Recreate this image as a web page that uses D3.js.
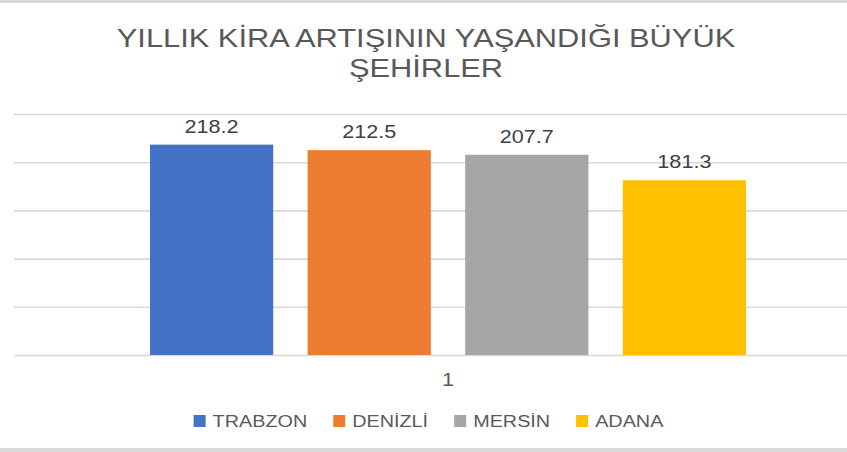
<!DOCTYPE html>
<html>
<head>
<meta charset="utf-8">
<script src="https://cdn.jsdelivr.net/npm/d3@7"></script>
<style>
  html, body { margin: 0; padding: 0; background: #fff; }
  svg { display: block; }
  text { font-family: "Liberation Sans", Arial, sans-serif; }
</style>
</head>
<body>
<svg id="chart" width="847" height="452"></svg>
<script>
// ---- data ----
const titleLines = ["YILLIK KİRA ARTIŞININ YAŞANDIĞI BÜYÜK", "ŞEHİRLER"];
const categories = ["1"];
const seriesNames = ["TRABZON", "DENİZLİ", "MERSİN", "ADANA"];
const seriesValues = [218.2, 212.5, 207.7, 181.3];
const seriesColors = ["#4472C4", "#ED7D31", "#A5A5A5", "#FFC000"];
const yTicks = [0, 50, 100, 150, 200, 250];

// ---- layout ----
const W = 847, H = 452;
const SX = 1.2; // horizontal stretch of the reference image text
const plot = { left: 14, right: 847, top: 114, bottom: 355 };
const svg = d3.select("#chart");

// frame bands
svg.append("rect").attr("x", 0).attr("y", 0).attr("width", W).attr("height", 3).attr("fill", "#d9d9d9");
svg.append("rect").attr("x", 0).attr("y", 448).attr("width", W).attr("height", 4).attr("fill", "#d9d9d9");

function stext(x, y, str, size, color, anchor) {
  return svg.append("text")
    .attr("transform", `translate(${x},${y}) scale(${SX},1)`)
    .attr("text-anchor", anchor || "middle")
    .attr("font-size", size)
    .attr("fill", color)
    .text(str);
}

// title
stext(426, 47, titleLines[0], 25.7, "#595959");
stext(426, 77, titleLines[1], 25.7, "#595959");

// scales
const y = d3.scaleLinear().domain([0, 250]).range([plot.bottom, plot.top]);
const x0 = d3.scaleBand().domain(categories).range([150, 746]);
const x1 = d3.scaleBand().domain(seriesNames).range([0, x0.bandwidth()]).paddingInner(0.218).paddingOuter(0);

// gridlines via axis
const grid = svg.append("g")
  .attr("transform", `translate(${plot.left},0)`)
  .call(d3.axisRight(y).tickValues(yTicks).tickSize(plot.right - plot.left).tickFormat(""));
grid.select(".domain").remove();
grid.selectAll(".tick line").attr("stroke", "#d9d9d9").attr("stroke-width", 1.6);

// bars
const data = seriesNames.map((n, i) => ({ name: n, value: seriesValues[i], color: seriesColors[i], cat: categories[0] }));
svg.append("g").selectAll("rect").data(data).join("rect")
  .attr("x", d => x0(d.cat) + x1(d.name))
  .attr("y", d => y(d.value))
  .attr("width", x1.bandwidth())
  .attr("height", d => y(0) - y(d.value))
  .attr("fill", d => d.color);

// data labels
data.forEach(d => {
  stext(x0(d.cat) + x1(d.name) + x1.bandwidth() / 2, y(d.value) - 12, d3.format(".1f")(d.value), 18, "#404040");
});

// category axis label
categories.forEach(c => {
  stext(x0(c) + x0.bandwidth() / 2, 386, c, 18, "#595959");
});

// legend
const legend = svg.append("g");
const items = [];
seriesNames.forEach((n, i) => {
  const t = legend.append("text")
    .attr("font-size", 16.5).attr("fill", "#595959").text(n);
  items.push({ t, w: t.node().getComputedTextLength() * SX, color: seriesColors[i] });
});
const sq = 12, gapT = 7, gapItem = 26;
let total = 0;
items.forEach((it, i) => { total += sq + gapT + it.w + (i < items.length - 1 ? gapItem : 0); });
let cx = 428.5 - total / 2;
items.forEach(it => {
  legend.append("rect").attr("x", cx).attr("y", 415).attr("width", sq).attr("height", sq).attr("fill", it.color);
  it.t.attr("transform", `translate(${cx + sq + gapT},427) scale(${SX},1)`);
  cx += sq + gapT + it.w + gapItem;
});
</script>
</body>
</html>
